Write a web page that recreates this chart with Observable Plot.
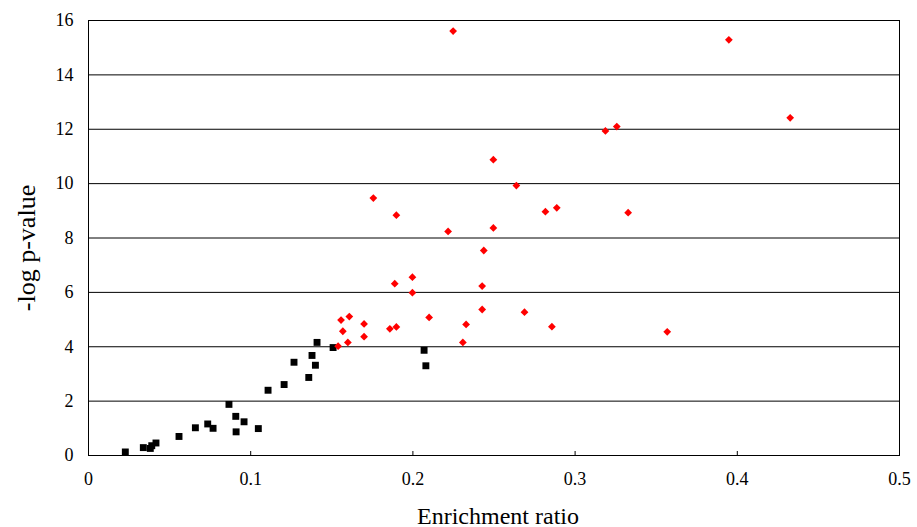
<!DOCTYPE html>
<html>
<head>
<meta charset="utf-8">
<script src="https://cdn.jsdelivr.net/npm/d3@7"></script>
<script src="https://cdn.jsdelivr.net/npm/@observablehq/plot@0.6"></script>
<style>
  html, body { margin: 0; padding: 0; background: #fff; }
  #chart svg { display: block; }
</style>
</head>
<body>
<div id="chart"></div>
<script>
// Black squares (not significant)
const blackX = [0.0227, 0.0338, 0.0381, 0.0390, 0.0416, 0.0558, 0.0659, 0.0735, 0.0768, 0.0866, 0.0908, 0.0959, 0.0910, 0.1047, 0.1107, 0.1206, 0.1267, 0.1409, 0.1378, 0.1399, 0.1358, 0.1508, 0.2069, 0.2080];
const blackY = [0.13, 0.29, 0.26, 0.36, 0.46, 0.70, 1.02, 1.16, 1.00, 1.88, 1.44, 1.24, 0.87, 0.99, 2.40, 2.61, 3.43, 4.16, 3.68, 3.32, 2.87, 3.97, 3.87, 3.30];

// Red diamonds (significant)
const redX = [0.1539, 0.1557, 0.1608, 0.1568, 0.1599, 0.1699, 0.1699, 0.1858, 0.1898, 0.1888, 0.1997, 0.1997, 0.2100, 0.2308, 0.2328, 0.2496, 0.2638, 0.1756, 0.1898, 0.2217, 0.2496, 0.2817, 0.2887, 0.2437, 0.2427, 0.2427, 0.2688, 0.2857, 0.3187, 0.3257, 0.3327, 0.3948, 0.4326, 0.3568, 0.2248];
const redY = [4.02, 4.98, 5.11, 4.57, 4.16, 4.84, 4.37, 4.66, 4.73, 6.32, 6.56, 5.99, 5.08, 4.16, 4.82, 10.88, 9.93, 9.47, 8.84, 8.24, 8.37, 8.97, 9.11, 7.54, 6.23, 5.37, 5.27, 4.74, 11.94, 12.10, 8.93, 15.29, 12.42, 4.55, 15.61];

const xTicks = [0, 0.1, 0.2, 0.3, 0.4, 0.5];
const yTicks = [0, 2, 4, 6, 8, 10, 12, 14, 16];
const xLabel = "Enrichment ratio";
const yLabel = "-log p-value";

const black = blackX.map((x, i) => ({x, y: blackY[i]}));
const red = redX.map((x, i) => ({x, y: redY[i]}));

const diamond = {
  draw(context, size) {
    const r = Math.sqrt(size / 2);
    context.moveTo(0, -r);
    context.lineTo(r, 0);
    context.lineTo(0, r);
    context.lineTo(-r, 0);
    context.closePath();
  }
};

const chart = Plot.plot({
  width: 917,
  height: 527,
  marginLeft: 88,
  marginRight: 18,
  marginTop: 20,
  marginBottom: 72,
  style: {fontFamily: "'Liberation Serif', 'Times New Roman', serif", background: "#fff", color: "#000"},
  x: {domain: [0, 0.5], ticks: xTicks},
  y: {domain: [0, 16], ticks: yTicks},
  marks: [
    Plot.ruleY(yTicks, {y: d => d, stroke: "#000", strokeWidth: 1}),
    Plot.frame({stroke: "#000", strokeWidth: 1}),
    Plot.axisX(xTicks, {
      tickSize: -4, tickPadding: 21, fontSize: 18, label: null,
      tickFormat: d => d === 0 ? "0" : String(d)
    }),
    Plot.axisY(yTicks, {tickSize: 0, tickPadding: 15, fontSize: 18, label: null}),
    Plot.dot(black, {x: "x", y: "y", symbol: "square", r: 3.9, fill: "#000", stroke: "none"}),
    Plot.dot(red, {x: "x", y: "y", symbol: diamond, r: 3.1, fill: "#ff0000", stroke: "none"}),
    Plot.text([xLabel], {text: d => d, frameAnchor: "bottom", dx: 4, dy: 68, lineAnchor: "bottom", textAnchor: "middle", fontSize: 24, fill: "#000"}),
    Plot.text([yLabel], {text: d => d, frameAnchor: "left", dx: -62, dy: 10, rotate: -90, lineAnchor: "middle", textAnchor: "middle", fontSize: 26, fill: "#000"})
  ]
});

document.getElementById("chart").appendChild(chart);
</script>
</body>
</html>
